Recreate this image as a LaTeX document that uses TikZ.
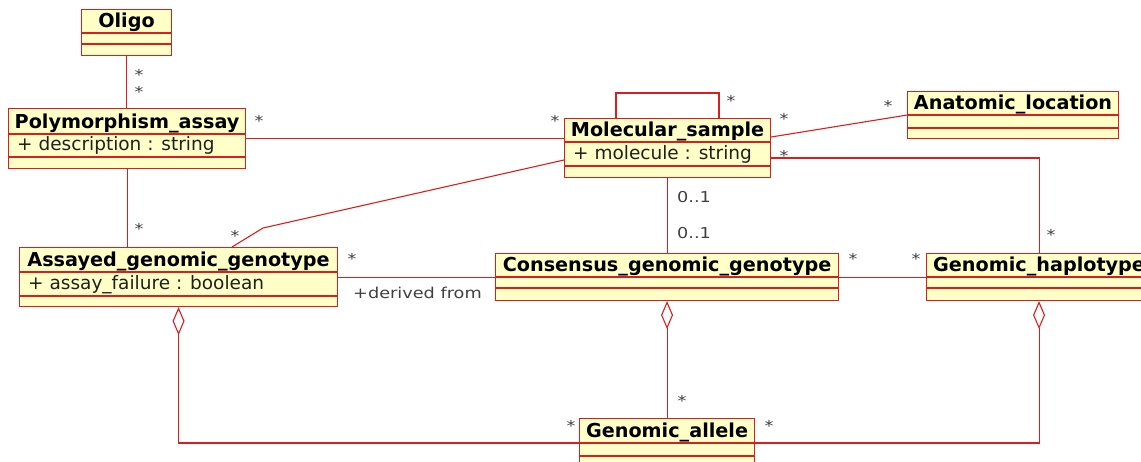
\documentclass[tikz,border=0pt]{standalone}
\usepackage{fontspec}
\setmainfont{DejaVu Sans}
\newfontfamily\lblfont{DejaVu Sans}[FakeStretch=1.18]
\usetikzlibrary{arrows.meta,calc}
\definecolor{umlred}{RGB}{218,30,30}
\definecolor{umlfill}{RGB}{255,255,200}
\definecolor{lblgray}{RGB}{64,64,64}
\tikzset{
  clsbox/.style={draw=umlred, fill=umlfill, line width=1.1pt, inner sep=0pt, rectangle},
  clsline/.style={draw=umlred, line width=1.1pt},
  titletxt/.style={anchor=base, inner sep=0pt, font=\fontsize{19.2}{21}\selectfont\bfseries, text=black},
  attrtxt/.style={anchor=base west, inner sep=0pt, font=\fontsize{18.5}{20}\selectfont, text=black!88},
  lbl/.style={anchor=base, inner sep=0pt, font=\lblfont\fontsize{15}{16}\selectfont, text=lblgray},
  lblw/.style={lbl, anchor=base west},
  conn/.style={draw=umlred, line width=1.1pt},
  agg/.style={conn, {Diamond[open, fill=white, length=28pt, width=12pt]}-},
}
\newcommand{\umlclass}[9]{%
  \node[clsbox, minimum width=#4pt, minimum height={#5pt+#6pt+#7pt}, anchor=north west] (#1) at (#2,#3) {};
  \draw[clsline] ($(#1.north west)+(0,#5)$) -- ($(#1.north east)+(0,#5)$);
  \draw[clsline] ($(#1.north west)+(0,{#5+#6})$) -- ($(#1.north east)+(0,{#5+#6})$);
  \node[titletxt] (#1-title) at ($(#1.north)+(0,{#5-6})$) {#8};
  \node[attrtxt] (#1-attr) at ($(#1.north west)+(9,{#5+#6-6.5})$) {#9};
}
\begin{document}
\begin{tikzpicture}[x=1pt,y=-1pt]
\useasboundingbox (0,0) rectangle (1141,461);
\clip (0,0) rectangle (1141,461);
% classes
\umlclass{oligo}{81}{9}{90}{24}{11}{11}{Oligo}{}
\umlclass{poly}{8}{108}{237}{26}{23}{11}{Polymorphism\_assay}{+ description : string}
\umlclass{mol}{564}{118}{206}{24}{24}{11}{Molecular\_sample}{+ molecule : string}
\umlclass{anat}{907}{91}{211}{24}{13}{10}{Anatomic\_location}{}
\umlclass{asg}{19}{247}{318}{25}{24}{10}{Assayed\_genomic\_genotype}{+ assay\_failure : boolean}
\umlclass{cons}{495}{253}{343}{24}{11}{12}{Consensus\_genomic\_genotype}{}
\umlclass{hap}{926}{253}{225}{24}{11}{12}{Genomic\_haplotype}{}
\umlclass{allele}{579}{418}{175}{25}{13}{20}{Genomic\_allele}{}
% bend points
\coordinate (loopL) at (616,93);
\coordinate (loopR) at (719,93);
\coordinate (bendA) at (263,228);
\coordinate (aggY) at (0,443);
% connectors
\draw[conn] (oligo.south) -- (oligo.south |- poly.north);
\draw[conn] (poly.east) -- (mol.west |- poly.east);
\draw[conn] (mol.north -| loopL) -- (loopL) -- (loopR) -- (mol.north -| loopR);
\draw[conn] ($(mol.north east)+(0,19)$) -- (anat.west);
\draw[conn] ($(mol.north east)+(0,40)$) -| (hap.north);
\draw[conn] (mol.south) -- (mol.south |- cons.north);
\draw[conn] ($(mol.north west)+(0,42)$) -- (bendA) -- (asg.north -| 232,0);
\draw[conn] (poly.south) -- (poly.south |- asg.north);
\draw[conn] (asg.east) -- (cons.west);
\draw[conn] (cons.east) -- (hap.west);
\draw[agg] (asg.south) -- (asg.south |- aggY) -- (allele.west |- aggY);
\draw[agg] (cons.south) -- (cons.south |- allele.north);
\draw[agg] (hap.south) -- (hap.south |- aggY) -- (allele.east |- aggY);
% multiplicities
\node[lbl] (m1) at (139,80) {*};
\node[lbl] (m2) at (139,97) {*};
\node[lbl] (m3) at (259,126) {*};
\node[lbl] (m4) at (555,126) {*};
\node[lbl] (m5) at (731,106) {*};
\node[lbl] (m6) at (784,124) {*};
\node[lbl] (m7) at (888,111) {*};
\node[lbl] (m8) at (784,161) {*};
\node[lbl] (m9) at (1051,240) {*};
\node[lbl] (m10) at (139,234) {*};
\node[lbl] (m11) at (235,241) {*};
\node[lbl] (m12) at (352,264) {*};
\node[lbl] (m13) at (853,264) {*};
\node[lbl] (m14) at (916,264) {*};
\node[lbl] (m15) at (682,406) {*};
\node[lbl] (m16) at (571,431) {*};
\node[lbl] (m17) at (769,431) {*};
\node[lblw] (z1) at (677,202) {0..1};
\node[lblw] (z2) at (677,238) {0..1};
\node[lblw] (der) at (353,298) {+derived from};
\end{tikzpicture}
\end{document}
